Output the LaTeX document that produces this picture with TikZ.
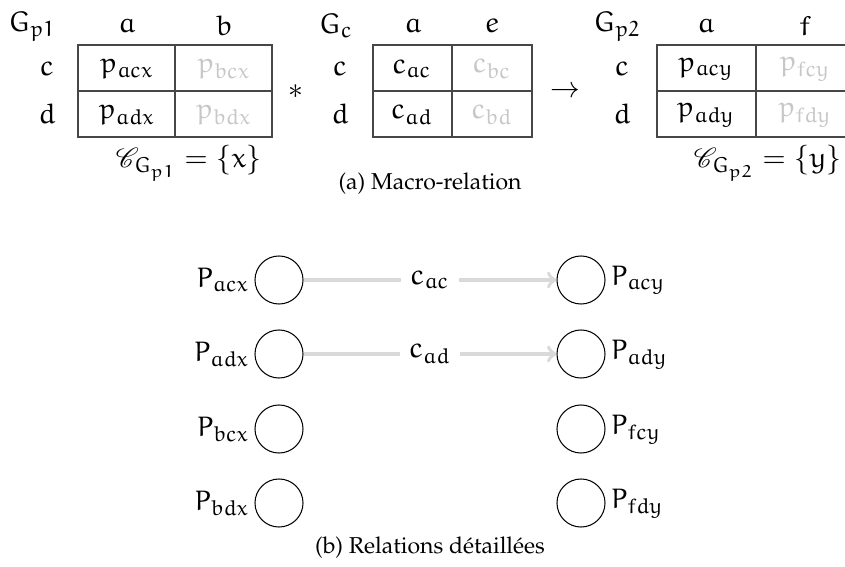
\documentclass[tikz,border=0pt]{standalone}
\IfFileExists{mathpazo.sty}{%
  \usepackage[T1]{fontenc}\usepackage{mathpazo}}{%
  \usepackage{fontspec}\setmainfont{Liberation Serif}}
\IfFileExists{mathrsfs.sty}{\usepackage{mathrsfs}}{\providecommand{\mathscr}{\mathcal}}
\IfFileExists{ueur.fd}{\DeclareMathAlphabet{\mathEu}{U}{eur}{m}{n}}{\newcommand{\mathEu}{\mathrm}}
\usepackage{tikz}
\usetikzlibrary{arrows,positioning,calc}

\begin{document}
\begin{tikzpicture}[x=0.435pt,y=-0.435pt,>=to,semithick]
\tikzstyle{every node}=[inner sep=2pt, font=\fontsize{12.4}{15}\selectfont]
\tikzset{
	grille/.style={draw=black!72, line width=0.5pt},
	pale/.style={text=black!22},
	legende/.style={font=\normalsize},
	place/.style={
		circle,
		draw,
		minimum size=20.9pt,
		line width=0.45pt,
		label distance=3pt
	},
	lien/.style={->, draw=black!15, line width=1.6pt}
}

\useasboundingbox (0,0) rectangle (845,567);

%--------------------------- (a) macro-relation ------------
% G_p1
\node (Gp1) at (32,26) {$\mathEu{G_{p1}}$};
\node (Gp1a) at (127,26) {$\mathEu{a}$};
\node (Gp1b) at (224,26) {$\mathEu{b}$};
\node (Gp1c) at (47,69) {$\mathEu{c}$};
\node (Gp1d) at (47,114) {$\mathEu{d}$};
\draw[grille] (78,45) rectangle (272,137);
\draw[grille] (78,91) -- (272,91);
\draw[grille] (175,45) -- (175,137);
\node (pacx) at (127,69) {$\mathEu{p_{acx}}$};
\node[pale] (pbcx) at (224,69) {$\mathEu{p_{bcx}}$};
\node (padx) at (127,115) {$\mathEu{p_{adx}}$};
\node[pale] (pbdx) at (224,115) {$\mathEu{p_{bdx}}$};
\node (CGp1) at (189,163) {$\mathscr{C}_{\mathEu{G_{p1}}} = \{\mathEu{x}\}$};

\node (fois) at (296,92) {$*$};

% G_c
\node (Gc) at (336,26) {$\mathEu{G_{c}}$};
\node (Gca) at (413,26) {$\mathEu{a}$};
\node (Gce) at (492,26) {$\mathEu{e}$};
\node (Gcc) at (340,69) {$\mathEu{c}$};
\node (Gcd) at (340,114) {$\mathEu{d}$};
\draw[grille] (373,45) rectangle (532,137);
\draw[grille] (373,91) -- (532,91);
\draw[grille] (452,45) -- (452,137);
\node (cac) at (412,69) {$\mathEu{c_{ac}}$};
\node[pale] (cbc) at (492,69) {$\mathEu{c_{bc}}$};
\node (cad) at (412,115) {$\mathEu{c_{ad}}$};
\node[pale] (cbd) at (492,115) {$\mathEu{c_{bd}}$};

\node (donne) at (565,92) {$\rightarrow$};

% G_p2
\node (Gp2) at (617,26) {$\mathEu{G_{p2}}$};
\node (Gp2a) at (706,26) {$\mathEu{a}$};
\node (Gp2f) at (805,26) {$\mathEu{f}$};
\node (Gp2c) at (622,69) {$\mathEu{c}$};
\node (Gp2d) at (622,114) {$\mathEu{d}$};
\draw[grille] (657,45) rectangle (855,137);
\draw[grille] (657,91) -- (855,91);
\draw[grille] (756,45) -- (756,137);
\node (pacy) at (706,69) {$\mathEu{p_{acy}}$};
\node[pale] (pfcy) at (805,69) {$\mathEu{p_{fcy}}$};
\node (pady) at (706,115) {$\mathEu{p_{ady}}$};
\node[pale] (pfdy) at (805,115) {$\mathEu{p_{fdy}}$};
\node (CGp2) at (768,163) {$\mathscr{C}_{\mathEu{G_{p2}}} = \{\mathEu{y}\}$};

\node[legende] (capA) at (430,184) {(a) Macro-relation};

%--------------------------- (b) relations detaillees ------------
\node[place, label={left:$\mathEu{P_{acx}}$}] (Pacx) at (279,280) {};
\node[place, label={left:$\mathEu{P_{adx}}$}] (Padx) at (279,354) {};
\node[place, label={left:$\mathEu{P_{bcx}}$}] (Pbcx) at (279,429) {};
\node[place, label={left:$\mathEu{P_{bdx}}$}] (Pbdx) at (279,503) {};

\node[place, label={right:$\mathEu{P_{acy}}$}] (Pacy) at (581,280) {};
\node[place, label={right:$\mathEu{P_{ady}}$}] (Pady) at (581,354) {};
\node[place, label={right:$\mathEu{P_{fcy}}$}] (Pfcy) at (581,429) {};
\node[place, label={right:$\mathEu{P_{fdy}}$}] (Pfdy) at (581,503) {};

\draw[lien] (Pacx) -- node[fill=white, text=black, inner sep=4pt] {$\mathEu{c_{ac}}$} (Pacy);
\draw[lien] (Padx) -- node[fill=white, text=black, inner sep=4pt] {$\mathEu{c_{ad}}$} (Pady);

\node[legende] (capB) at (430,548) {(b) Relations d\'etaill\'ees};

\end{tikzpicture}
\end{document}
